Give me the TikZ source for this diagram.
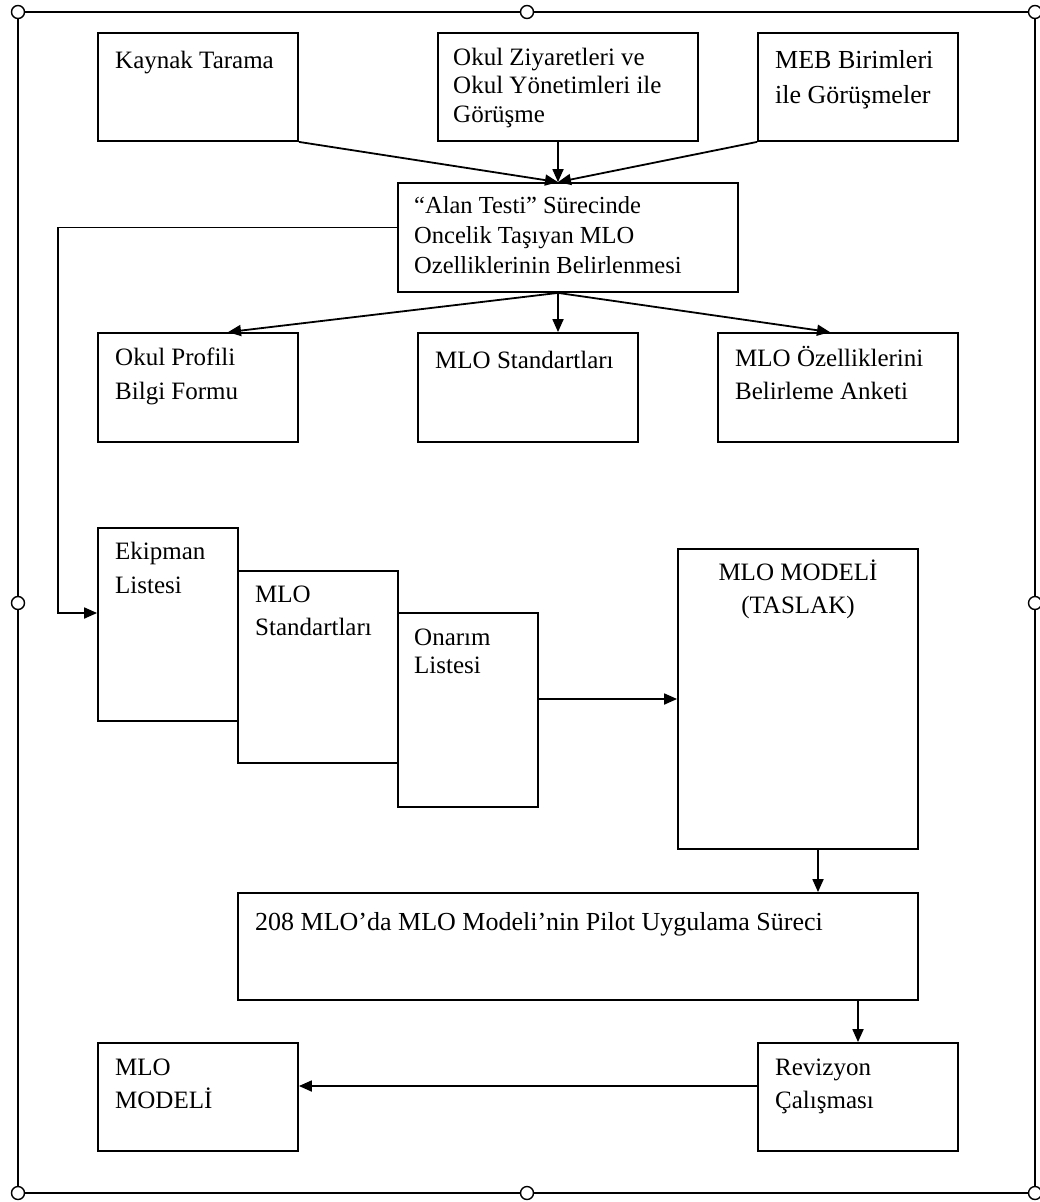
\documentclass[tikz,border=0pt]{standalone}
\usepackage{fontspec}
\setmainfont{Liberation Serif}
\usetikzlibrary{arrows.meta}
\newcommand\fls{\rule{0pt}{22pt}}
\newcommand\fsz[2]{\fontsize{#1pt}{#2pt}\selectfont}
\begin{document}
\begin{tikzpicture}[x=1pt,y=-1pt,
  box/.style={draw, fill=white, line width=1.8pt, inner sep=0pt},
  txt/.style={anchor=north west, inner sep=0pt, align=left},
  arr/.style={line width=1.8pt, -{Triangle[length=13pt,width=11pt]}},
  handle/.style={draw, fill=white, line width=1.4pt}]
\useasboundingbox (0,0) rectangle (1039,1202);
% frame
\draw[line width=1.8pt] (18,12) rectangle (1035,1193);
\foreach \p in {(18,12),(527,12),(1035,12),(18,603),(1035,603),(18,1193),(527,1193),(1035,1193)}
  \draw[handle] \p circle[radius=6.5pt];
% boxes
\node[box, minimum width=200pt, minimum height=108pt] (kt) at (198,87) {};
\node[box, minimum width=260pt, minimum height=108pt] (oz) at (568,87) {};
\node[box, minimum width=200pt, minimum height=108pt] (meb) at (858,87) {};
\node[box, minimum width=340pt, minimum height=109pt] (at) at (568,237.5) {};
\node[box, minimum width=200pt, minimum height=109pt] (op) at (198,387.5) {};
\node[box, minimum width=220pt, minimum height=109pt] (ms) at (528,387.5) {};
\node[box, minimum width=240pt, minimum height=109pt] (moz) at (838,387.5) {};
\node[box, minimum width=140pt, minimum height=193pt] (ek) at (168,624.5) {};
\node[box, minimum width=160pt, minimum height=192pt] (ms2) at (318,667) {};
\node[box, minimum width=140pt, minimum height=194pt] (on) at (468,710) {};
\node[box, minimum width=240pt, minimum height=300pt] (tas) at (798,699) {};
\node[box, minimum width=680pt, minimum height=107pt] (pil) at (578,946.5) {};
\node[box, minimum width=200pt, minimum height=108pt] (mm) at (198,1097) {};
\node[box, minimum width=200pt, minimum height=108pt] (rev) at (858,1097) {};
% texts
\node[txt, font=\fsz{25}{30}] (ktT) at (115,46) {\fls Kaynak Tarama};
\node[txt, font=\fsz{25}{28.5}] (ozT) at (453,43) {\fls Okul Ziyaretleri ve\\Okul Yönetimleri ile\\Görüşme};
\node[txt, font=\fsz{26}{35}] (mebT) at (775,46) {\fls MEB Birimleri\\ile Görüşmeler};
\node[txt, font=\fsz{24.5}{30}] (atT) at (414,191) {\fls “Alan Testi” Sürecinde\\Oncelik Taşıyan MLO\\Ozelliklerinin Belirlenmesi};
\node[txt, font=\fsz{25}{34}] (opT) at (115,343) {\fls Okul Profili\\Bilgi Formu};
\node[txt, font=\fsz{25}{34}] (msT) at (435,346) {\fls MLO Standartları};
\node[txt, font=\fsz{25}{33}] (mozT) at (735,344) {\fls MLO Özelliklerini\\Belirleme Anketi};
\node[txt, font=\fsz{25}{34}] (ekT) at (115,537) {\fls Ekipman\\Listesi};
\node[txt, font=\fsz{25}{33}] (ms2T) at (255,580) {\fls MLO\\Standartları};
\node[txt, font=\fsz{25}{28}] (onT) at (414,623) {\fls Onarım\\Listesi};
\node[txt, anchor=north, align=center, font=\fsz{25}{33}] (tasT) at (798,558) {\fls MLO MODELİ\\(TASLAK)};
\node[txt, font=\fsz{26}{33}] (pilT) at (255,908) {\fls 208 MLO’da MLO Modeli’nin Pilot Uygulama Süreci};
\node[txt, font=\fsz{25}{33}] (mmT) at (115,1053) {\fls MLO\\MODELİ};
\node[txt, font=\fsz{25}{33}] (revT) at (775,1053) {\fls Revizyon\\Çalışması};
% connectors
\coordinate (lc) at (58,0);
\draw[arr] (kt.south east) -- ([xshift=-10pt]at.north);
\draw[arr] ([xshift=-10pt]oz.south) -- ([xshift=-10pt]at.north);
\draw[arr] (meb.south west) -- ([xshift=-10pt]at.north);
\draw[arr] ([xshift=-10pt]at.south) -- ([xshift=30pt]op.north);
\draw[arr] ([xshift=-10pt]at.south) -- ([xshift=30pt]ms.north);
\draw[arr] ([xshift=-10pt]at.south) -- ([xshift=-8pt]moz.north);
\draw[arr] ([yshift=10pt]at.west) -- ([yshift=10pt]at.west -| lc) |- ([yshift=11.5pt]ek.west);
\draw[arr] (on.east |- tas.west) -- (tas.west);
\draw[arr] ([xshift=20pt]tas.south) -- ([xshift=20pt]tas.south |- pil.north);
\draw[arr] (pil.south -| rev.north) -- (rev.north);
\draw[arr] ([yshift=11pt]rev.west) -- ([yshift=11pt]mm.east);
\end{tikzpicture}
\end{document}
